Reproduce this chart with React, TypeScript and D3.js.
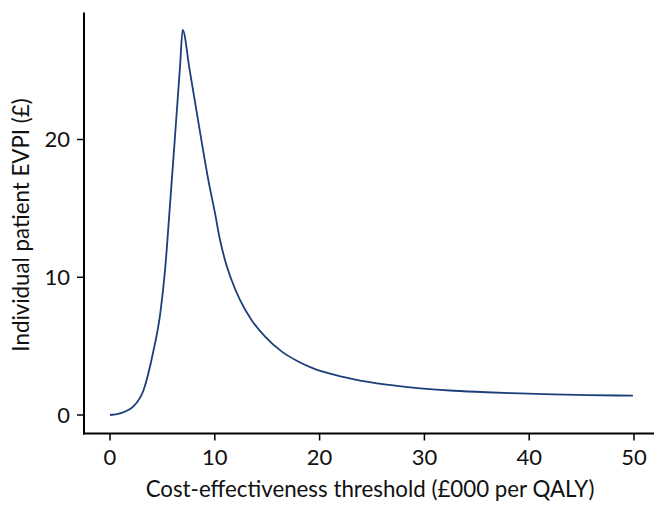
import React from "react";
import * as d3 from "d3";

const thresholds = [0, 0.95, 2.2, 3.2, 4.1, 4.8, 5.25, 5.7, 6.2, 6.7, 6.93, 7.6, 8.6, 9.38, 10.02, 10.5, 10.97, 11.6, 12.4, 13.5, 14.8, 16.4, 18.0, 19.4, 21.0, 23.2, 26.4, 29.6, 32.8, 35.9, 39.1, 42.3, 45.5, 49.9];
const evpi = [0, 0.12, 0.6, 1.8, 4.5, 7.4, 10.5, 15.0, 20.2, 25.5, 27.96, 25.05, 20.5, 17.07, 14.65, 12.7, 11.26, 9.8, 8.35, 6.9, 5.69, 4.6, 3.87, 3.39, 3.0, 2.6, 2.2, 1.94, 1.76, 1.65, 1.57, 1.5, 1.45, 1.4];
const xTicks = [0, 10, 20, 30, 40, 50];
const yTicks = [0, 10, 20];

const W = 654, H = 505;
const FONT = "Lato, 'Open Sans', sans-serif";

export default function App() {
  const x = d3.scaleLinear().domain([0, 50]).range([110, 634]);
  const y = d3.scaleLinear().domain([0, 20]).range([415, 139.5]);
  const axisLeft = 84, axisBottom = 433.5, axisTop = 12.5;
  const data = thresholds.map((t, i) => [t, evpi[i]] as [number, number]);
  const line = d3.line<[number, number]>()
    .x(d => x(d[0])).y(d => y(d[1]))
    .curve(d3.curveMonotoneX);
  return (
    <svg width={W} height={H} style={{ position: "absolute", left: 0, top: 0, background: "#fff" }}>
      <rect width={W} height={H} fill="#fff" />
      <path d={line(data) || ""} fill="none" stroke="#1b3f78" strokeWidth={1.8} strokeLinejoin="miter" />
      <line x1={axisLeft} x2={axisLeft} y1={axisTop} y2={axisBottom + 1} stroke="#000" strokeWidth={2} />
      <line x1={axisLeft - 1} x2={W} y1={axisBottom} y2={axisBottom} stroke="#000" strokeWidth={2} />
      {yTicks.map(t => (
        <g key={"y" + t}>
          <line x1={axisLeft - 7} x2={axisLeft} y1={y(t)} y2={y(t)} stroke="#000" strokeWidth={1.5} />
          <text x={70} y={y(t)} dy="0.36em" textAnchor="end" fontFamily={FONT} fontSize={22} fill="#111">{t}</text>
        </g>
      ))}
      {xTicks.map(t => (
        <g key={"x" + t}>
          <line x1={x(t)} x2={x(t)} y1={axisBottom} y2={axisBottom + 7} stroke="#000" strokeWidth={1.5} />
          <text x={x(t)} y={465} textAnchor="middle" fontFamily={FONT} fontSize={22} fill="#111">{t}</text>
        </g>
      ))}
      <text x={370} y={497} textAnchor="middle" fontFamily={FONT} fontSize={22.3} fill="#111">Cost-effectiveness threshold (£000 per QALY)</text>
      <text transform="translate(29,225) rotate(-90)" textAnchor="middle" fontFamily={FONT} fontSize={22.3} fill="#111">Individual patient EVPI (£)</text>
    </svg>
  );
}
